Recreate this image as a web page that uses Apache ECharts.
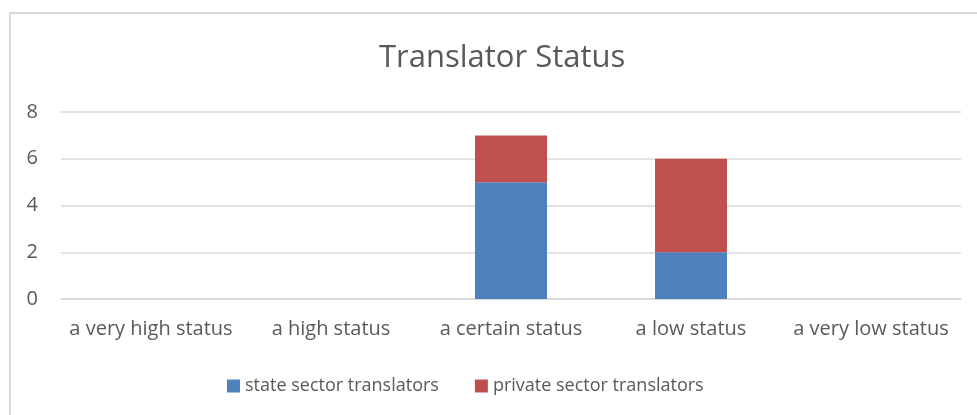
<!DOCTYPE html>
<html>
<head>
    <meta charset="utf-8">
    <title>Translator Status</title>
    <script src="https://cdn.jsdelivr.net/npm/echarts@6/dist/echarts.min.js"></script>
    <style>
        html, body { margin: 0; padding: 0; background: #fff; }
        #frame {
            position: absolute; left: 9px; top: 12px; width: 980px; height: 420px;
            border-left: 2px solid #d9d9d9; border-top: 2px solid #d9d9d9;
        }
        #chart1 { position: absolute; left: 0; top: 0; width: 977px; height: 415px; }
    </style>
</head>
<body>
<div id="frame"></div>
<div id="chart1"></div>
<script>
    // 数据
    var categories = ['a very high status', 'a high status', 'a certain status', 'a low status', 'a very low status'];
    var stateSector = [0, 0, 5, 2, 0];
    var privateSector = [0, 0, 2, 4, 0];
    var seriesNames = ['state sector translators', 'private sector translators'];

    var font = 'Open Sans, Liberation Sans, sans-serif';
    var myChart1 = echarts.init(document.getElementById('chart1'));
    myChart1.setOption({
        animation: false,
        title: {
            text: 'Translator Status',
            left: 374,
            top: 38,
            textStyle: { fontFamily: font, fontSize: 31, fontWeight: 'normal', color: '#595959' }
        },
        legend: {
            data: seriesNames,
            top: 372,
            left: 222,
            itemWidth: 13,
            itemHeight: 13,
            itemGap: 36,
            icon: 'rect',
            textStyle: { fontFamily: font, fontSize: 18, color: '#595959' }
        },
        grid: { left: 61, right: 16, top: 112, bottom: 116 },
        xAxis: {
            type: 'category',
            data: categories,
            axisLine: { lineStyle: { color: '#d9d9d9', width: 1.5 } },
            axisTick: { show: false },
            axisLabel: { interval: 0, fontFamily: font, fontSize: 20, color: '#595959', margin: 20 }
        },
        yAxis: {
            type: 'value',
            min: 0, max: 8, interval: 2,
            axisLine: { show: false },
            axisTick: { show: false },
            splitLine: { lineStyle: { color: '#d9d9d9', width: 1.5 } },
            axisLabel: { fontFamily: font, fontSize: 20, color: '#595959', margin: 23 }
        },
        series: [{
            name: seriesNames[0],
            type: 'bar',
            stack: 'total',
            barWidth: '40%',
            itemStyle: { color: '#4f81bd' },
            data: stateSector
        }, {
            name: seriesNames[1],
            type: 'bar',
            stack: 'total',
            barWidth: '40%',
            itemStyle: { color: '#c0504d' },
            data: privateSector
        }]
    });
</script>
</body>
</html>
